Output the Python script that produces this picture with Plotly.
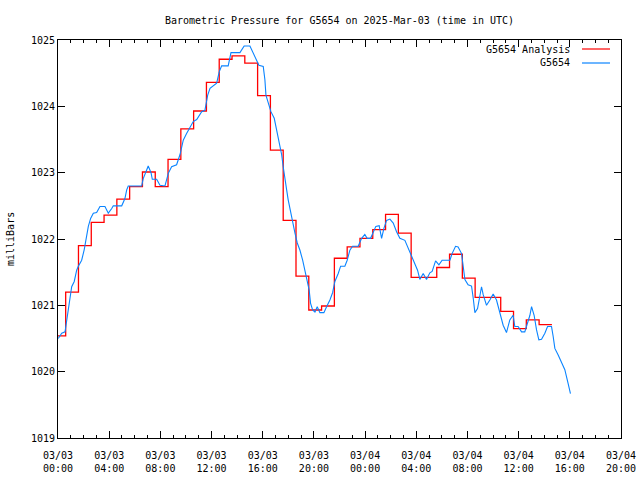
import pandas as pd
import plotly.graph_objects as go

BASE = pd.Timestamp("2025-03-03 00:00")

RED_HOURS = [0.0, 0.6, 1.6, 2.6, 3.6, 4.6, 5.6, 6.6, 7.6, 8.6, 9.6, 10.6, 11.6, 12.6,
             13.6, 14.6, 15.6, 16.6, 17.6, 18.6, 19.6, 20.6, 21.6, 22.6, 23.6, 24.6,
             25.6, 26.6, 27.6, 28.6, 29.6, 30.6, 31.6, 32.6, 33.6, 34.6, 35.6, 36.6,
             37.6, 38.6]
RED_VALUES = [1020.54, 1021.2, 1021.9, 1022.25, 1022.36, 1022.6, 1022.79, 1023.01,
              1022.79, 1023.2, 1023.66, 1023.93, 1024.36, 1024.71, 1024.76, 1024.65,
              1024.16, 1023.34, 1022.28, 1021.44, 1020.93, 1020.99, 1021.71, 1021.88,
              1022.01, 1022.14, 1022.37, 1022.09, 1021.42, 1021.42, 1021.57, 1021.77,
              1021.41, 1021.12, 1021.12, 1020.91, 1020.65, 1020.78, 1020.71, 1020.71]

BLUE_HOURS = [0.02, 0.29, 0.55, 0.68, 0.86, 1.07, 1.27, 1.46, 1.59, 1.85, 2.05, 2.24, 2.37,
              2.55, 2.76, 3.02, 3.28, 3.67, 3.93, 4.20, 4.32, 4.98, 5.23, 5.37, 5.49, 6.54,
              6.66, 6.93, 7.05, 7.27, 7.37, 7.71, 7.97, 8.36, 8.62, 8.88, 9.27, 9.53, 9.79,
              10.05, 10.31, 10.57, 10.84, 11.23, 11.48, 11.70, 11.88, 12.13, 12.40, 12.60,
              12.79, 13.30, 13.52, 14.22, 14.55, 15.00, 15.26, 15.52, 15.70, 16.04, 16.17,
              16.25, 16.43, 16.64, 16.90, 17.09, 17.29, 17.48, 17.60, 17.73, 17.87, 17.99,
              18.18, 18.38, 18.52, 18.70, 18.91, 19.12, 19.30, 19.48, 19.63, 19.74, 19.90,
              20.08, 20.26, 20.47, 20.78, 20.99, 21.25, 21.46, 21.64, 21.90, 22.09, 22.42,
              22.60, 22.81, 23.02, 23.46, 23.73, 23.98, 24.16, 24.43, 24.63, 24.84, 25.10,
              25.29, 25.47, 25.68, 25.94, 26.20, 26.46, 26.72, 27.11, 27.37, 27.63, 27.89,
              28.10, 28.28, 28.54, 28.80, 29.06, 29.24, 29.51, 29.77, 30.02, 30.63, 30.80,
              31.07, 31.27, 31.54, 31.66, 31.80, 32.05, 32.32, 32.45, 32.58, 32.79, 32.97,
              33.10, 33.23, 33.49, 33.75, 34.01, 34.27, 34.53, 34.79, 35.05, 35.31, 35.57,
              35.70, 35.96, 36.23, 36.48, 36.70, 36.88, 37.01, 37.21, 37.40, 37.58, 37.79,
              38.05, 38.26, 38.57, 38.70, 38.83, 39.09, 39.35, 39.61, 39.87, 40.05]
BLUE_VALUES = [1020.50, 1020.58, 1020.60, 1020.78, 1020.98, 1021.28, 1021.36, 1021.53, 1021.59,
               1021.68, 1021.84, 1022.03, 1022.19, 1022.31, 1022.39, 1022.40, 1022.49, 1022.49,
               1022.39, 1022.46, 1022.50, 1022.50, 1022.61, 1022.74, 1022.80, 1022.80, 1022.91,
               1023.04, 1023.10, 1023.00, 1022.90, 1022.90, 1022.81, 1022.80, 1022.99, 1023.09,
               1023.12, 1023.27, 1023.49, 1023.59, 1023.67, 1023.77, 1023.80, 1023.92, 1023.94,
               1024.17, 1024.27, 1024.31, 1024.35, 1024.52, 1024.61, 1024.61, 1024.81, 1024.81,
               1024.91, 1024.91, 1024.80, 1024.70, 1024.62, 1024.60, 1024.40, 1024.17, 1024.05,
               1023.92, 1023.82, 1023.64, 1023.49, 1023.27, 1023.09, 1022.89, 1022.74, 1022.59,
               1022.39, 1022.24, 1022.09, 1021.94, 1021.83, 1021.68, 1021.53, 1021.38, 1021.23,
               1021.03, 1020.93, 1020.90, 1020.98, 1020.89, 1020.89, 1020.98, 1021.08, 1021.19,
               1021.36, 1021.48, 1021.59, 1021.59, 1021.68, 1021.83, 1021.89, 1021.89, 1022.01,
               1022.07, 1022.01, 1022.01, 1022.11, 1022.19, 1022.20, 1022.01, 1022.16, 1022.28,
               1022.30, 1022.24, 1022.11, 1022.01, 1021.98, 1021.86, 1021.73, 1021.63, 1021.53,
               1021.39, 1021.48, 1021.39, 1021.49, 1021.51, 1021.67, 1021.61, 1021.68, 1021.68,
               1021.78, 1021.89, 1021.88, 1021.78, 1021.58, 1021.39, 1021.31, 1021.29, 1021.11,
               1020.89, 1020.95, 1021.18, 1021.28, 1021.16, 1021.00, 1021.08, 1021.17, 1021.08,
               1020.88, 1020.70, 1020.59, 1020.78, 1020.85, 1020.68, 1020.68, 1020.60, 1020.60,
               1020.73, 1020.85, 1020.98, 1020.85, 1020.63, 1020.48, 1020.49, 1020.58, 1020.68,
               1020.68, 1020.53, 1020.35, 1020.25, 1020.13, 1020.03, 1019.82, 1019.67]

SERIES_NAMES = ["G5654 Analysis", "G5654"]
COLORS = ["#ff0000", "#0a84ff"]
TITLE = "Barometric Pressure for G5654 on 2025-Mar-03 (time in UTC)"
Y_TITLE = "milliBars"

FONT = "DejaVu Sans Mono"


def to_time(hours):
    return [BASE + pd.Timedelta(hours=h) for h in hours]


fig = go.Figure()
fig.add_trace(go.Scatter(x=to_time(RED_HOURS), y=RED_VALUES, mode="lines",
                         line=dict(color=COLORS[0], width=1.3, shape="hv"),
                         name=SERIES_NAMES[0], showlegend=False))
fig.add_trace(go.Scatter(x=to_time(BLUE_HOURS), y=BLUE_VALUES, mode="lines",
                         line=dict(color=COLORS[1], width=1.1),
                         name=SERIES_NAMES[1], showlegend=False))

fig.update_layout(
    width=640, height=480,
    margin=dict(l=58, r=19, t=40, b=42, autoexpand=False),
    paper_bgcolor="white", plot_bgcolor="white",
    font=dict(family=FONT, size=10, color="black"),
    title=dict(text=TITLE, x=0.5, xref="paper", xanchor="center",
               y=1 - 20 / 480, yref="container", yanchor="middle",
               font=dict(family=FONT, size=10, color="black")),
    showlegend=False,
)

fig.update_xaxes(
    type="date", automargin=False,
    range=[BASE, BASE + pd.Timedelta(hours=44)],
    tick0=BASE, dtick=4 * 3600 * 1000,
    tickformat="%m/%d<br>%H:%M",
    ticks="inside", ticklen=7, tickcolor="black", tickwidth=1,
    ticklabelstandoff=8,
    minor=dict(dtick=3600 * 1000, ticks="inside", ticklen=3, tickcolor="black"),
    showline=True, linecolor="black", linewidth=1, mirror="allticks",
    showgrid=False, zeroline=False,
    tickfont=dict(family=FONT, size=10, color="black"),
)
fig.update_yaxes(
    automargin=False,
    range=[1019, 1025], dtick=1, tick0=1019, tickformat="d",
    ticks="inside", ticklen=7, tickcolor="black", tickwidth=1,
    showline=True, linecolor="black", linewidth=1, mirror="allticks",
    showgrid=False, zeroline=False,
    tickfont=dict(family=FONT, size=10, color="black"),
)

PW = 640 - 58 - 19
PH = 480 - 40 - 42

# y axis title
fig.add_annotation(text=Y_TITLE, textangle=-90, xref="paper", yref="paper",
                   x=(10 - 58) / PW, y=0.5, xanchor="center", yanchor="middle",
                   showarrow=False, font=dict(family=FONT, size=10, color="black"))

# legend (gnuplot style: text right-aligned, sample on right)
legend_rows = [49, 63]
for name, color, ypix in zip(SERIES_NAMES, COLORS, legend_rows):
    yp = 1 - (ypix - 40) / PH
    fig.add_annotation(text=name, xref="paper", yref="paper",
                       x=(572 - 58) / PW, y=yp, xanchor="right", yanchor="middle",
                       showarrow=False, font=dict(family=FONT, size=10, color="black"))
    fig.add_shape(type="line", xref="paper", yref="paper",
                  x0=(582 - 58) / PW, x1=(610 - 58) / PW, y0=yp, y1=yp,
                  line=dict(color=color, width=1.2))

fig.write_html("out.html")
